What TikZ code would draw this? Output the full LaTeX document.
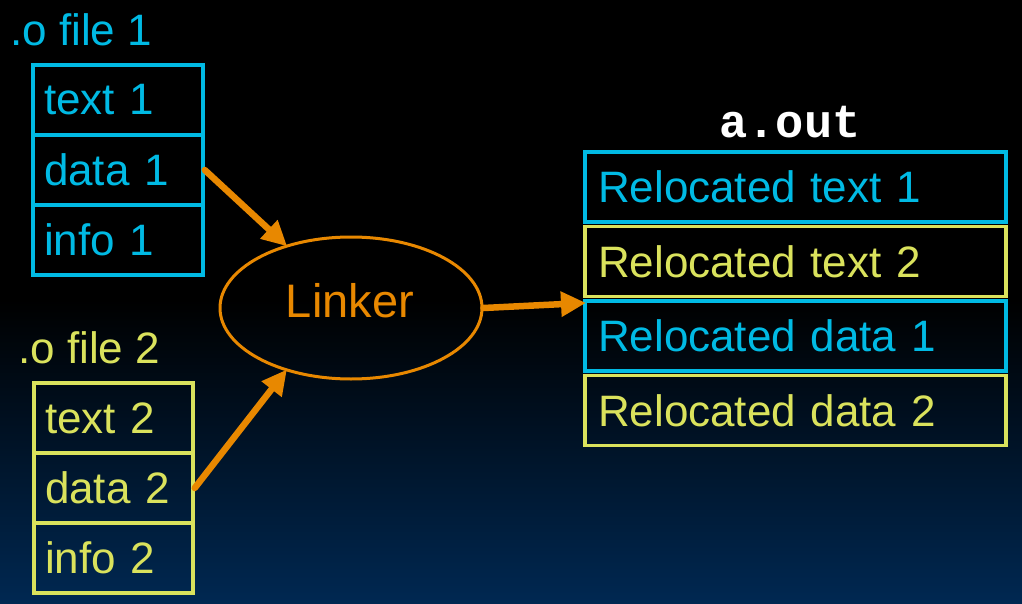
\documentclass[tikz,border=0pt]{standalone}
\usepackage{fontspec}
\setmainfont{Liberation Sans}
\newfontfamily\monob{Liberation Mono}
\usetikzlibrary{arrows.meta,shapes.geometric}
\definecolor{cy}{RGB}{0,186,228}
\definecolor{yl}{RGB}{218,226,92}
\definecolor{orng}{RGB}{232,136,0}
\definecolor{bgblue}{RGB}{0,40,82}
\begin{document}
\begin{tikzpicture}[x=1pt,y=-1pt,
  txt/.style={font=\fontsize{44}{50}\selectfont},
  seg/.style={draw, line width=3.5pt, rectangle, txt, minimum height=70pt, inner xsep=0pt, inner ysep=0pt, align=left},
  lbox/.style={seg, minimum width=170pt, text width=148pt},
  lbox2/.style={seg, minimum width=159pt, text width=137pt},
  rbox/.style={seg, minimum width=421pt, text width=395pt},
  arr/.style={draw=orng, line width=6.5pt, line cap=round, -{Triangle[length=25pt,width=24pt]}, shorten >=-2pt}]
\useasboundingbox (0,0) rectangle (1022,604);
\fill[black] (0,0) rectangle (1022,604);
\shade[top color=black, bottom color=bgblue] (0,300) rectangle (1022,604);

% file 1
\node[txt, text=cy, anchor=base west, inner sep=0pt] (f1) at (10,46) {.o file 1};
\node[lbox, draw=cy, text=cy] (t1) at (118,100) {text 1};
\node[lbox, draw=cy, text=cy] (d1) at (118,170) {data 1};
\node[lbox, draw=cy, text=cy] (i1) at (118,240) {info 1};

% file 2
\node[txt, text=yl, anchor=base west, inner sep=0pt] (f2) at (18,363) {.o file 2};
\node[lbox2, draw=yl, text=yl] (t2) at (113.5,418) {text 2};
\node[lbox2, draw=yl, text=yl] (d2) at (113.5,488) {data 2};
\node[lbox2, draw=yl, text=yl] (i2) at (113.5,558) {info 2};

% linker
\node[ellipse, draw=orng, line width=3pt, minimum width=262pt, minimum height=142pt] (lk) at (351,308) {};
\node[text=orng, anchor=base, inner sep=0pt, font=\fontsize{47}{50}\selectfont] (lkt) at (350,317) {Linker};

% a.out
\node[anchor=base, text=white, inner sep=0pt, font=\monob\bfseries\fontsize{47}{50}\selectfont] (ao) at (790,138) {a.out};
\node[rbox, draw=cy, text=cy] (r1) at (795.5,187) {Relocated text 1};
\node[rbox, draw=yl, text=yl] (r2) at (795.5,261.5) {Relocated text 2};
\node[rbox, draw=cy, text=cy] (r3) at (795.5,336) {Relocated data 1};
\node[rbox, draw=yl, text=yl] (r4) at (795.5,410.5) {Relocated data 2};

\coordinate (tgt) at (584,303);
\draw[arr] (d1.east) -- (lk.136);
\draw[arr] (d2.east) -- (lk.224);
\draw[arr] (lk.east) -- (tgt);
\end{tikzpicture}
\end{document}
